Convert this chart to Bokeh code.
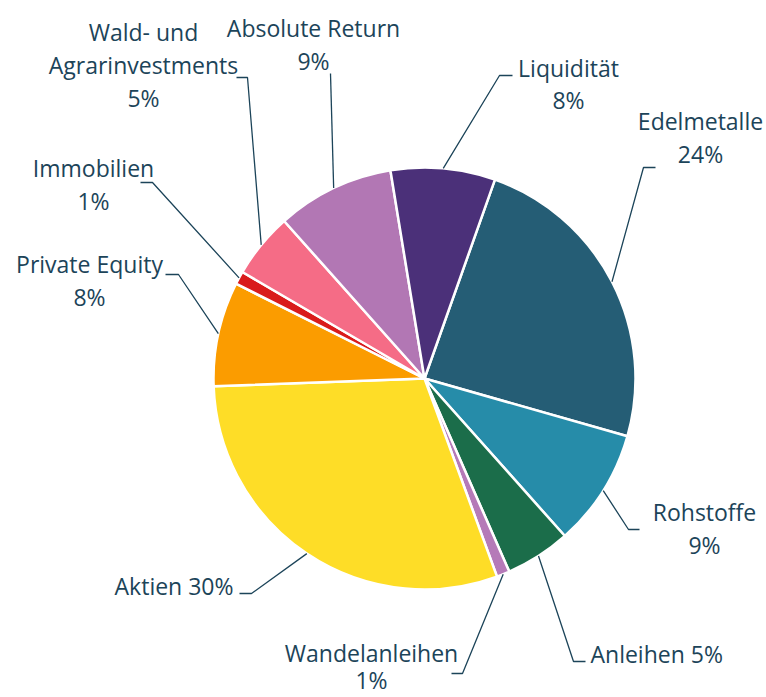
import math
from bokeh.plotting import figure
from bokeh.models import Range1d, ColumnDataSource
from bokeh.embed import file_html
from bokeh.resources import INLINE
from bokeh.core.properties import value

# ---- data ----
categories = ["Edelmetalle", "Rohstoffe", "Anleihen", "Wandelanleihen", "Aktien",
              "Private Equity", "Immobilien", "Wald- und Agrarinvestments",
              "Absolute Return", "Liquidität"]
shares = [24, 9, 5, 1, 30, 8, 1, 5, 9, 8]
colors = ["#255d75", "#268ca9", "#1b6d4a", "#b57ab8", "#fedd27",
          "#fb9c00", "#d91b1b", "#f56c86", "#b277b4", "#4b3079"]
# label text rows (percentage appended from shares)
label_rows = [["Edelmetalle", "{p}"], ["Rohstoffe", "{p}"], ["Anleihen {p}"],
              ["Wandelanleihen", "{p}"], ["Aktien {p}"], ["Private Equity", "{p}"],
              ["Immobilien", "{p}"], ["Wald- und", "Agrarinvestments", "{p}"],
              ["Absolute Return", "{p}"], ["Liquidität", "{p}"]]

# ---- layout (pixel coordinates, y downward) ----
W, H = 766, 697
CX, CY, R = 424, 378, 211
START_DEG = 19.5  # clockwise from 12 o'clock
# label: (x, first line center y, align, line gap)
label_pos = [(700, 120, "center", 33), (704, 511, "center", 33), (590, 653, "left", 33),
             (371, 652, "center", 27), (233, 585, "right", 33), (89, 263, "center", 33),
             (93, 167, "center", 33), (143, 31, "center", 33), (313, 27, "center", 33),
             (568, 67, "center", 32)]
# leader elbows and end of horizontal tick
elbows = [(643, 167), (628, 529), (573, 661), (462, 673), (251, 593),
          (178, 274), (152, 182), (247, 77), (330, 73), (499, 75)]
ends = [(655, 167), (639, 529), (585, 661), (451, 673), (239, 593),
        (165, 274), (140, 182), (236, 77), (330, 73), (512, 75)]

TEXT_COLOR = "#1c4459"

p = figure(width=W, height=H, x_range=Range1d(0, W), y_range=Range1d(0, H),
           output_backend="svg", toolbar_location=None, min_border=0)
p.axis.visible = False
p.grid.visible = False
p.outline_line_color = None
p.background_fill_color = "white"

total = sum(shares)
starts, ends_a, mids = [], [], []
acc = START_DEG
for s in shares:
    a0 = acc
    a1 = acc + 360.0 * s / total
    starts.append(math.radians(90 - a0))
    ends_a.append(math.radians(90 - a1))
    mids.append((a0 + a1) / 2)
    acc = a1

src = ColumnDataSource(dict(start=starts, end=ends_a, color=colors, cat=categories))
p.wedge(x=CX, y=H - CY, radius=R, start_angle="start", end_angle="end",
        direction="clock", fill_color="color", line_color="white", line_width=2.5,
        source=src)

# leader lines
for i, m in enumerate(mids):
    sx = CX + R * math.sin(math.radians(m))
    sy = CY - R * math.cos(math.radians(m))
    xs = [sx, elbows[i][0], ends[i][0]]
    ys = [H - sy, H - elbows[i][1], H - ends[i][1]]
    p.line(xs, ys, line_color=TEXT_COLOR, line_width=1.3)

# labels
tx, ty, tt, ta = [], [], [], []
for i, rows in enumerate(label_rows):
    x0, y0, al, gap = label_pos[i]
    for j, r in enumerate(rows):
        tx.append(x0)
        ty.append(H - (y0 + j * gap))
        tt.append(r.format(p=f"{shares[i]}%"))
        ta.append(al)
tsrc = ColumnDataSource(dict(x=tx, y=ty, text=tt, align=ta))
p.text(x="x", y="y", text="text", text_align="align", text_baseline="middle",
       text_font=value("Open Sans"), text_font_size="23px", text_color=TEXT_COLOR,
       source=tsrc)

open("out.html", "w").write(file_html(p, INLINE))
